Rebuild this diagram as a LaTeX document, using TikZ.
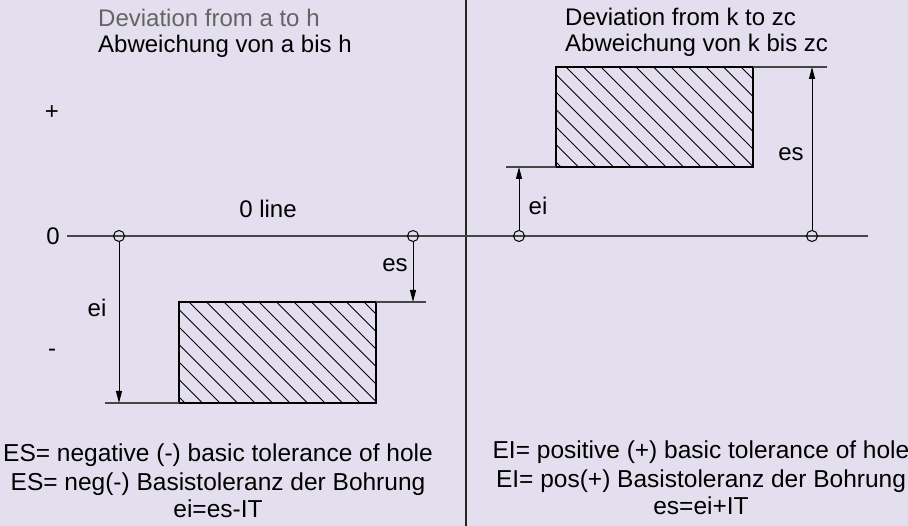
\documentclass[tikz,border=0pt]{standalone}
\usepackage{fontspec}
\setmainfont{Liberation Sans}
\usetikzlibrary{arrows.meta}
\definecolor{bg}{RGB}{228,223,238}
\definecolor{zl}{RGB}{70,70,70}
\definecolor{dev}{RGB}{100,100,100}
\tikzset{
  lbl/.style={inner sep=0pt, font=\fontsize{24}{28}\selectfont},
  blbl/.style={inner sep=0pt, font=\fontsize{24.5}{28}\selectfont},
  pt/.style={circle, draw=black, line width=1pt, minimum size=11pt, inner sep=0pt},
  dim/.style={line width=1pt, -{Triangle[length=12pt,width=6pt]}},
  ext/.style={line width=1.2pt, draw=zl},
  hatchbox/.style={draw=black, line width=1.6pt, inner sep=0pt, outer sep=0pt, anchor=north west,
    path picture={\foreach \i in {-200,-182.5,...,220}
      {\draw[line width=0.8pt] ([xshift=\i pt]path picture bounding box.north west) -- ++(200pt,-200pt);}}},
}
\begin{document}
\begin{tikzpicture}[x=1pt,y=-1pt]
\fill[bg] (0,0) rectangle (908,526);
\useasboundingbox (0,0) rectangle (908,526);
% divider
\coordinate (dt) at (466,0);
\coordinate (db) at (466,526);
\draw[line width=1.4pt, draw=black!85] (dt) -- (db);
% zero line
\coordinate (z0) at (67,236);
\coordinate (z1) at (868,236);
\draw[line width=1.6pt, draw=zl] (z0) -- (z1);
% labels axis
\node[lbl] (zero) at (53,236) {0};
\node[lbl] (plus) at (52,113) {+};
\node[lbl] (minus) at (52,353) {-};
\node[lbl, anchor=base] (zline) at (268,218) {0 line};
% titles
\node[lbl, anchor=base west, text=dev] (t1) at (98,27) {Deviation from a to h};
\node[lbl, anchor=base west] (t2) at (98,53) {Abweichung von a bis h};
\node[lbl, anchor=base west] (t3) at (565,26) {Deviation from k to zc};
\node[lbl, anchor=base west] (t4) at (565,52) {Abweichung von k bis zc};
% left tolerance zone
\node[hatchbox, minimum width=197pt, minimum height=101pt] (lz) at (179,302) {};
% right tolerance zone
\node[hatchbox, minimum width=197pt, minimum height=100pt] (rz) at (556,67) {};
% extension lines
\coordinate (le1) at (105,403);
\coordinate (le2) at (426,302);
\coordinate (re1) at (506,167);
\coordinate (re2) at (827,67);
\draw[ext] (le1) -- (lz.south west);
\draw[ext] (lz.north east) -- (le2);
\draw[ext] (re1) -- (rz.south west);
\draw[ext] (rz.north east) -- (re2);
% points on zero line
\node[pt] (p1) at (119,236) {};
\node[pt] (p2) at (413,236) {};
\node[pt] (p3) at (519,236) {};
\node[pt] (p4) at (812,236) {};
% dimension arrows
\coordinate (a1) at (119,403);
\coordinate (a2) at (413,302);
\coordinate (a3) at (519,167);
\coordinate (a4) at (812,67);
\draw[dim] (p1.south) -- (a1);
\draw[dim] (p2.south) -- (a2);
\draw[dim] (p3.north) -- (a3);
\draw[dim] (p4.north) -- (a4);
\node[lbl] (ei1) at (97,308) {ei};
\node[lbl] (es1) at (395,265) {es};
\node[lbl] (ei2) at (538,206) {ei};
\node[lbl] (es2) at (791,154) {es};
% bottom texts
\node[blbl, anchor=base] (b1) at (218,462) {ES= negative (-) basic tolerance of hole};
\node[blbl, anchor=base] (b2) at (218,490) {ES= neg(-) Basistoleranz der Bohrung};
\node[blbl, anchor=base] (b3) at (218,517) {ei=es-IT};
\node[blbl, anchor=base] (b4) at (701,459) {EI= positive (+) basic tolerance of hole};
\node[blbl, anchor=base] (b5) at (701,487) {EI= pos(+) Basistoleranz der Bohrung};
\node[blbl, anchor=base] (b6) at (701,514) {es=ei+IT};
\end{tikzpicture}
\end{document}
